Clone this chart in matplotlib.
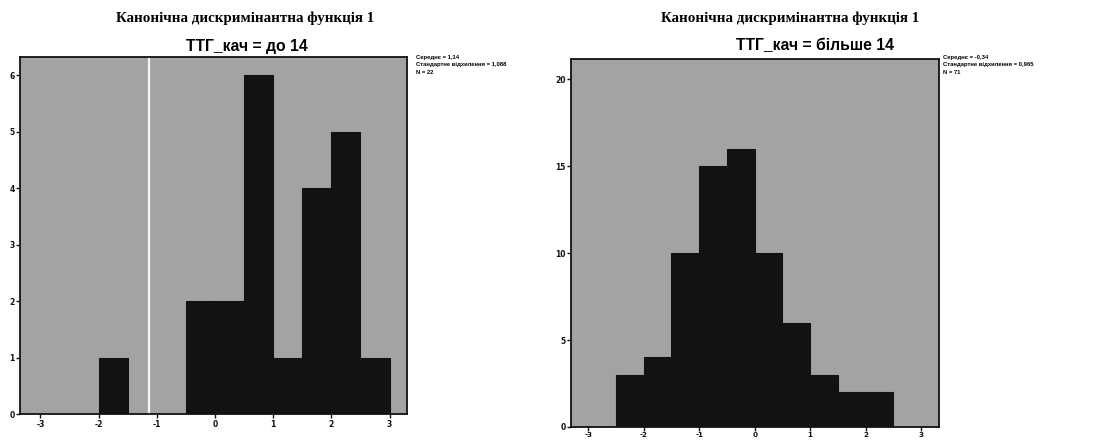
import numpy as np
import matplotlib
matplotlib.use("Agg")
import matplotlib.pyplot as plt

plt.rcParams["axes.unicode_minus"] = False

# histogram data (bin width 0.5)
left_edges = [-2.0, -0.5, 0.0, 0.5, 1.0, 1.5, 2.0, 2.5]
left_counts = [1, 2, 2, 6, 1, 4, 5, 1]
right_edges = [-2.5, -2.0, -1.5, -1.0, -0.5, 0.0, 0.5, 1.0, 1.5, 2.0]
right_counts = [3, 4, 10, 15, 16, 10, 6, 3, 2, 2]
bin_width = 0.5

main_title = "Канонічна дискримінантна функція 1"
left_sub = "ТТГ_кач = до 14"
right_sub = "ТТГ_кач = більше 14"
left_stats = ["Середнє = 1,14", "Стандартне відхилення = 1,088", "N = 22"]
right_stats = ["Середнє = -0,34", "Стандартне відхилення = 0,965", "N = 71"]

xticks = [-3, -2, -1, 0, 1, 2, 3]
left_yticks = [0, 1, 2, 3, 4, 5, 6]
right_yticks = [0, 5, 10, 15, 20]

W, H = 1094, 441
fig = plt.figure(figsize=(W / 100, H / 100), dpi=100)

bg = "#a3a3a3"
bar_col = "#121212"


def px_axes(x0, y0, x1, y1):
    return fig.add_axes([x0 / W, 1 - y1 / H, (x1 - x0) / W, (y1 - y0) / H])


def style(ax):
    ax.set_facecolor(bg)
    for s in ax.spines.values():
        s.set_linewidth(1.3)
        s.set_color("#111111")
    ax.tick_params(direction="out", length=3, width=1, labelsize=5.5,
                   pad=1, colors="#111111")
    ax.set_xticks(xticks)
    for lab in ax.get_xticklabels() + ax.get_yticklabels():
        lab.set_fontweight("bold")


# left panel
ax1 = px_axes(20, 57, 407, 414)
ax1.bar(left_edges, left_counts, width=bin_width, align="edge",
        color=bar_col, edgecolor=bar_col, linewidth=0.8)
ax1.axvline(-1.14, color="white", lw=1.6, alpha=0.9, zorder=0.5)
ax1.set_xlim(-3.35, 3.3)
ax1.set_ylim(0, 6.32)
ax1.set_yticks(left_yticks)
style(ax1)

# right panel
ax2 = px_axes(571, 59, 939, 427)
ax2.bar(right_edges, right_counts, width=bin_width, align="edge",
        color=bar_col, edgecolor=bar_col, linewidth=0.8)
ax2.set_xlim(-3.31, 3.32)
ax2.set_ylim(0, 21.15)
ax2.set_yticks(right_yticks)
style(ax2)
ax2.tick_params(axis="x", pad=0.3, labelsize=5.2)

# titles
serif = ["Liberation Serif", "DejaVu Serif"]
sans = ["Liberation Sans", "DejaVu Sans"]
fig.text(245 / W, 1 - 18 / H, main_title, ha="center", va="center",
         fontsize=10.8, fontweight="bold", family=serif)
fig.text(790 / W, 1 - 18 / H, main_title, ha="center", va="center",
         fontsize=10.8, fontweight="bold", family=serif)
fig.text(247 / W, 1 - 46 / H, left_sub, ha="center", va="center",
         fontsize=11.3, fontweight="bold", family=sans)
fig.text(815 / W, 1 - 46 / H, right_sub, ha="center", va="center",
         fontsize=11.3, fontweight="bold", family=sans)

# stats boxes
for i, line in enumerate(left_stats):
    fig.text(416 / W, 1 - (57 + 7.5 * i) / H, line, ha="left", va="center",
             fontsize=4.2, fontweight="bold", family=sans)
for i, line in enumerate(right_stats):
    fig.text(943 / W, 1 - (57 + 7.5 * i) / H, line, ha="left", va="center",
             fontsize=4.2, fontweight="bold", family=sans)

fig.savefig("out.png", dpi=100)
